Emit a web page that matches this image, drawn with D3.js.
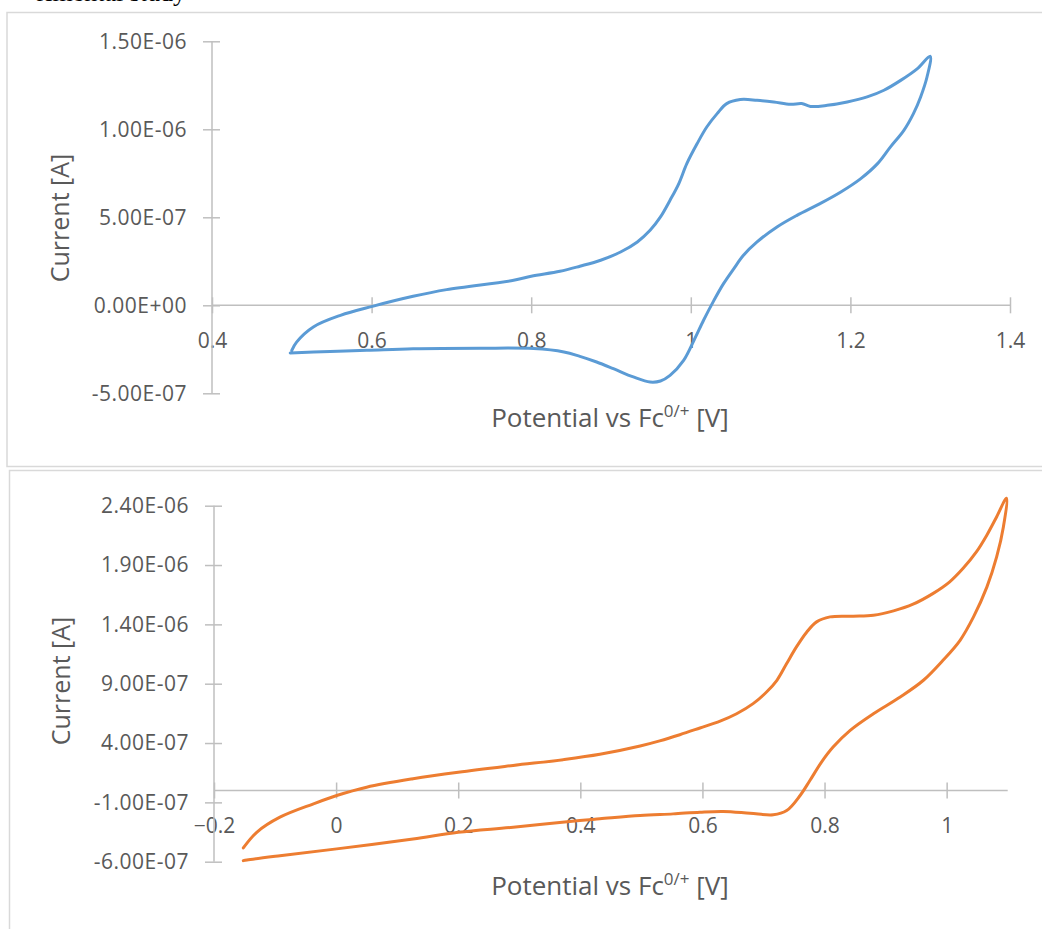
<!DOCTYPE html>
<html>
<head>
<meta charset="utf-8">
<script src="https://cdn.jsdelivr.net/npm/d3@7"></script>
<style>
  body { margin: 0; background: #fff; }
  svg { display: block; }
  .tick text { font-family: "Open Sans", sans-serif; fill: #595959; }
  .title { font-family: "Open Sans", sans-serif; fill: #595959; }
</style>
</head>
<body>
<svg id="page" width="1042" height="929"></svg>
<script>
// CV 1 (blue): potential [V] and current [A], forward then reverse sweep
const topPotential = [0.50, 0.506, 0.527, 0.561, 0.601, 0.652, 0.694, 0.778, 0.80, 0.836, 0.861, 0.887, 0.912, 0.933, 0.949, 0.962, 0.974, 0.985, 0.995, 1.008, 1.020, 1.033, 1.045, 1.062, 1.083, 1.104, 1.125, 1.139, 1.150, 1.171, 1.196, 1.221, 1.242, 1.263, 1.284, 1.300,
  1.296, 1.288, 1.279, 1.267, 1.250, 1.234, 1.213, 1.188, 1.162, 1.133, 1.108, 1.083, 1.066, 1.054, 1.041, 1.029, 1.016, 1.004, 0.991, 0.974, 0.962, 0.949, 0.928, 0.903, 0.882, 0.861, 0.841, 0.803, 0.736, 0.652, 0.594, 0.548, 0.498];
const topCurrent = [-2.56e-7, -2.09e-7, -1.23e-7, -5.7e-8, -6e-9, 5.1e-8, 8.9e-8, 1.42e-7, 1.65e-7, 1.93e-7, 2.22e-7, 2.56e-7, 3.03e-7, 3.60e-7, 4.26e-7, 5.02e-7, 5.97e-7, 6.92e-7, 8.05e-7, 9.19e-7, 1.013e-6, 1.089e-6, 1.146e-6, 1.169e-6, 1.165e-6, 1.155e-6, 1.142e-6, 1.146e-6, 1.130e-6, 1.136e-6, 1.155e-6, 1.184e-6, 1.222e-6, 1.278e-6, 1.345e-6, 1.415e-6,
  1.297e-6, 1.184e-6, 1.089e-6, 9.94e-7, 8.99e-7, 8.05e-7, 7.20e-7, 6.44e-7, 5.78e-7, 5.11e-7, 4.45e-7, 3.60e-7, 2.84e-7, 2.09e-7, 1.23e-7, 2.8e-8, -8.5e-8, -1.99e-7, -3.13e-7, -3.98e-7, -4.30e-7, -4.36e-7, -4.07e-7, -3.60e-7, -3.22e-7, -2.90e-7, -2.65e-7, -2.46e-7, -2.44e-7, -2.47e-7, -2.56e-7, -2.62e-7, -2.71e-7];

// CV 2 (orange)
const bottomPotential = [-0.152, -0.130, -0.092, -0.037, 0.001, 0.050, 0.126, 0.200, 0.290, 0.372, 0.432, 0.498, 0.530, 0.563, 0.596, 0.629, 0.656, 0.683, 0.705, 0.722, 0.738, 0.754, 0.771, 0.787, 0.809, 0.847, 0.880, 0.913, 0.945, 0.978, 1.005, 1.027, 1.049, 1.066, 1.082, 1.098,
  1.093, 1.082, 1.066, 1.044, 1.022, 0.994, 0.962, 0.924, 0.880, 0.842, 0.814, 0.795, 0.776, 0.760, 0.738, 0.716, 0.678, 0.634, 0.596, 0.552, 0.498, 0.432, 0.399, 0.290, 0.200, 0.126, 0.001, -0.092, -0.146, -0.152];
const bottomCurrent = [-4.84e-7, -3.52e-7, -2.25e-7, -1.12e-7, -4.2e-8, 2.8e-8, 9.9e-8, 1.54e-7, 2.11e-7, 2.60e-7, 3.05e-7, 3.75e-7, 4.18e-7, 4.70e-7, 5.27e-7, 5.85e-7, 6.47e-7, 7.32e-7, 8.30e-7, 9.29e-7, 1.070e-6, 1.210e-6, 1.336e-6, 1.421e-6, 1.463e-6, 1.469e-6, 1.477e-6, 1.514e-6, 1.570e-6, 1.661e-6, 1.758e-6, 1.872e-6, 2.012e-6, 2.153e-6, 2.307e-6, 2.463e-6,
  2.223e-6, 1.970e-6, 1.716e-6, 1.463e-6, 1.266e-6, 1.097e-6, 9.29e-7, 7.88e-7, 6.47e-7, 5.07e-7, 3.66e-7, 2.39e-7, 8.4e-8, -4.2e-8, -1.69e-7, -2.05e-7, -1.92e-7, -1.77e-7, -1.83e-7, -1.97e-7, -2.11e-7, -2.39e-7, -2.53e-7, -3.10e-7, -3.52e-7, -4.08e-7, -4.92e-7, -5.49e-7, -5.85e-7, -5.91e-7];

// axis ticks
const topXTicks = [0.4, 0.6, 0.8, 1, 1.2, 1.4];
const topYTicks = [-5e-7, 0, 5e-7, 1e-6, 1.5e-6];
const bottomXTicks = [-0.2, 0, 0.2, 0.4, 0.6, 0.8, 1];
const bottomYTicks = [-6e-7, -1e-7, 4e-7, 9e-7, 1.4e-6, 1.9e-6, 2.4e-6];

// Excel style 0.00E+00
function sci(n) {
  if (n === 0) return '0.00E+00';
  const e = Math.floor(Math.log10(Math.abs(n)) + 1e-9);
  const m = n / Math.pow(10, e);
  return m.toFixed(2) + 'E' + (e < 0 ? '-' : '+') + String(Math.abs(e)).padStart(2, '0');
}

const svg = d3.select('#page');

// line of body text cut off at the top of the page (as in the source)
svg.append('text')
  .attr('x', 186).attr('y', 1)
  .attr('text-anchor', 'end')
  .style('font-family', '"Liberation Serif", serif')
  .style('font-size', '26px')
  .text('rimental study');

// chart frames
svg.append('rect').attr('x', 7).attr('y', 12.5).attr('width', 1100).attr('height', 454)
  .attr('fill', 'none').attr('stroke', '#d9d9d9').attr('stroke-width', 1.5);
svg.append('rect').attr('x', 9.5).attr('y', 470.5).attr('width', 1100).attr('height', 520)
  .attr('fill', 'none').attr('stroke', '#d9d9d9').attr('stroke-width', 1.5);

function drawChart(cfg) {
  const x = d3.scaleLinear().domain(cfg.xDomain).range(cfg.xRange);
  const y = d3.scaleLinear().domain(cfg.yDomain).range(cfg.yRange);
  const g = svg.append('g');

  // x axis crosses at 0
  const xAxis = g.append('g')
    .attr('transform', `translate(0,${y(0)})`)
    .call(d3.axisBottom(x).tickValues(cfg.xTicks).tickSize(0).tickPadding(28).tickFormat(d3.format('')));
  xAxis.select('.domain').remove();
  xAxis.append('line')
    .attr('x1', x.range()[0]).attr('x2', x.range()[1])
    .attr('stroke', '#bfbfbf').attr('stroke-width', 1.5);
  xAxis.selectAll('.tick').append('line')
    .attr('y1', -8).attr('y2', 8).attr('stroke', '#bfbfbf').attr('stroke-width', 1.5);
  xAxis.selectAll('.tick text').style('font-size', '21px').attr('fill', '#595959');

  // y axis at left edge
  const yAxis = g.append('g')
    .attr('transform', `translate(${x.range()[0]},0)`)
    .call(d3.axisLeft(y).tickValues(cfg.yTicks).tickSize(0).tickPadding(25).tickFormat(sci));
  yAxis.select('.domain').remove();
  yAxis.append('line')
    .attr('y1', y.range()[0]).attr('y2', y.range()[1])
    .attr('stroke', '#bfbfbf').attr('stroke-width', 1.5);
  yAxis.selectAll('.tick').append('line')
    .attr('x1', -9).attr('x2', 8).attr('stroke', '#bfbfbf').attr('stroke-width', 1.5);
  yAxis.selectAll('.tick text').style('font-size', '21px').style('letter-spacing', '0.5px').attr('fill', '#595959');

  xAxis.selectAll('.tick text').raise();

  // axis titles
  g.append('text')
    .attr('class', 'title')
    .attr('transform', `translate(${cfg.yTitle[0]},${cfg.yTitle[1]}) rotate(-90)`)
    .attr('text-anchor', 'middle')
    .attr('dy', '0.35em')
    .style('font-size', '25px')
    .text('Current [A]');

  const xt = g.append('text')
    .attr('class', 'title')
    .attr('x', cfg.xTitle[0]).attr('y', cfg.xTitle[1])
    .attr('text-anchor', 'middle')
    .style('font-size', '26px');
  xt.append('tspan').text('Potential vs Fc');
  xt.append('tspan').attr('dy', -10).style('font-size', '17px').text('0/+');
  xt.append('tspan').attr('dy', 10).text(' [V]');

  // the CV loop
  const pts = cfg.potential.map((p, i) => [p, cfg.current[i]]);
  g.append('path')
    .datum(pts)
    .attr('fill', 'none')
    .attr('stroke', cfg.color)
    .attr('stroke-width', 3)
    .attr('stroke-linejoin', 'round')
    .attr('stroke-linecap', 'round')
    .attr('d', d3.line().curve(d3.curveCatmullRom.alpha(0.5)).x(d => x(d[0])).y(d => y(d[1])));
}

drawChart({
  xDomain: [0.4, 1.4], xRange: [212, 1010],
  yDomain: [-5e-7, 1.5e-6], yRange: [393.3, 41.3],
  xTicks: topXTicks, yTicks: topYTicks,
  potential: topPotential, current: topCurrent,
  color: '#5b9bd5',
  yTitle: [60, 218], xTitle: [610, 427]
});

drawChart({
  xDomain: [-0.2, 1.1], xRange: [214, 1007.7],
  yDomain: [-6e-7, 2.4e-6], yRange: [861.7, 505.7],
  xTicks: bottomXTicks, yTicks: bottomYTicks,
  potential: bottomPotential, current: bottomCurrent,
  color: '#ed7d31',
  yTitle: [61, 681], xTitle: [610, 895]
});
</script>
</body>
</html>
